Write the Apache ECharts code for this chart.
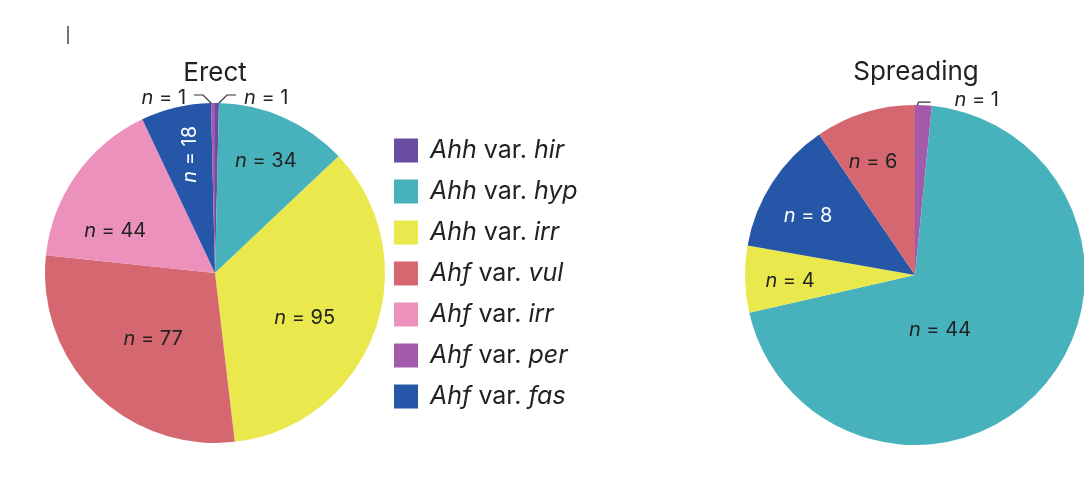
<!DOCTYPE html>
<html>
<head>
<meta charset="utf-8">
<script src="https://cdn.jsdelivr.net/npm/echarts@6/dist/echarts.min.js"></script>
<style>
html,body{margin:0;padding:0;background:#fff;}
#chart{width:1084px;height:478px;}
</style>
</head>
<body>
<div id="chart"></div>
<script>
// ---- data ----
const legendNames = ['Ahh var. hir','Ahh var. hyp','Ahh var. irr','Ahf var. vul','Ahf var. irr','Ahf var. per','Ahf var. fas'];
const erectNames = ['Ahh var. hir','Ahh var. hyp','Ahh var. irr','Ahf var. vul','Ahf var. irr','Ahf var. fas','Ahf var. per'];
const erectValues = [1, 34, 95, 77, 44, 18, 1];
const spreadNames = ['Ahf var. per','Ahh var. hyp','Ahh var. irr','Ahf var. fas','Ahf var. vul'];
const spreadValues = [1, 44, 4, 8, 6];
const titles = ['Erect', 'Spreading'];

// ---- styles ----
const colorMap = {
  'Ahh var. hir': '#6A4CA0',
  'Ahh var. hyp': '#47B2BB',
  'Ahh var. irr': '#E9E84C',
  'Ahf var. vul': '#D56771',
  'Ahf var. irr': '#EC91BC',
  'Ahf var. per': '#A45AAA',
  'Ahf var. fas': '#2556A8'
};
const FONT = 'Inter, "Noto Sans", sans-serif';
const TXT = '#222';
const erectLabelShift = {
  'Ahh var. hyp': [15, -32],
  'Ahh var. irr': [7, 15],
  'Ahf var. vul': [0, 3],
  'Ahf var. irr': [-28, 9],
  'Ahf var. fas': [33, -5]   // rotated label: shift in rotated frame
};
const spreadLabelShift = {
  'Ahh var. hyp': [-41, -3],
  'Ahh var. irr': [-37, 4],
  'Ahf var. fas': [-33, -11],
  'Ahf var. vul': [-16, -29]
};
const whiteLabels = {erect: ['Ahf var. fas'], spread: ['Ahf var. fas']};

function rich(color) {
  return {
    i: {fontStyle: 'italic', fontSize: 20, fontFamily: FONT, color: color},
    t: {fontSize: 20, fontFamily: FONT, color: color}
  };
}

function buildData(names, values, whites, isErect) {
  return names.map((nm, k) => {
    const item = {name: nm, value: values[k], itemStyle: {color: colorMap[nm]}};
    if (values[k] === 1) {
      item.label = {position: 'outside', rich: rich(TXT)};
      item.labelLine = {show: true, length: 9, length2: 10, lineStyle: {color: '#333', width: 1.2}};
    } else if (whites.indexOf(nm) >= 0) {
      item.label = {rich: rich('#fff')};
      if (isErect) item.label.rotate = 90;
    }
    return item;
  });
}

// custom leader line shapes for the tiny slices, derived from the library's default points
function smallLabelLayout(p, isErect) {
  const pts = p.labelLinePoints;
  const r = p.labelRect;
  if (!pts || !r) return {};
  const p0 = pts[0], p2 = pts[2];
  const side = p2[0] >= pts[1][0] ? 1 : -1;
  const hy = p0[1] - 8;
  let np, textEdge, textCy;
  if (isErect) {
    np = [[p0[0], p0[1] + 2], [p0[0] + side * 10, hy], [p0[0] + side * 19, hy]];
    textEdge = p0[0] + side * 27;
    textCy = hy + 3;
  } else {
    np = [[p0[0] - 11, p0[1] + 13], [p0[0] - 5, p0[1] - 3], [p0[0] + 7, p0[1] - 3]];
    textEdge = p0[0] + 31;
    textCy = p0[1] - 5;
  }
  const cur = side > 0 ? r.x : r.x + r.width;
  return {
    dx: textEdge - cur,
    dy: textCy - (r.y + r.height / 2),
    labelLinePoints: np
  };
}

function series(names, values, center, shifts, whites, isErect) {
  return {
    type: 'pie',
    center: center,
    radius: 170,
    startAngle: 90,
    clockwise: true,
    avoidLabelOverlap: false,
    silent: true,
    animation: false,
    itemStyle: {borderWidth: 0},
    label: {
      show: true,
      position: 'inside',
      color: TXT,
      formatter: p => '{i|n}{t| = ' + p.value + '}',
      rich: rich(TXT)
    },
    labelLine: {show: false},
    labelLayout: function (p) {
      const nm = names[p.dataIndex];
      if (values[p.dataIndex] === 1) return smallLabelLayout(p, isErect);
      const s = shifts[nm];
      if (s) return {dx: s[0], dy: s[1]};
      return {};
    },
    data: buildData(names, values, whites, isErect)
  };
}

const chart = echarts.init(document.getElementById('chart'), null, {renderer: 'canvas'});
chart.setOption({
  backgroundColor: '#fff',
  animation: false,
  legend: {
    orient: 'vertical',
    left: 394,
    top: 138,
    padding: 0,
    itemWidth: 24,
    itemHeight: 24,
    itemGap: 16,
    icon: 'rect',
    selectedMode: false,
    data: legendNames,
    formatter: function (name) {
      const parts = name.split(' var. ');
      return '{i|' + parts[0] + '}{t| var. }{i|' + parts[1] + '}';
    },
    textStyle: {
      color: TXT,
      padding: [0, 0, 0, 7],
      rich: {
        i: {fontStyle: 'italic', fontSize: 25, lineHeight: 24, fontFamily: FONT, color: TXT},
        t: {fontSize: 25, lineHeight: 24, fontFamily: FONT, color: TXT}
      }
    }
  },
  graphic: [
    {type: 'line', shape: {x1: 68, y1: 26, x2: 68, y2: 44}, style: {stroke: '#444', lineWidth: 1.5}},
    {type: 'text', x: 215, y: 73, style: {text: titles[0], fontSize: 26, fontFamily: FONT, fill: TXT, textAlign: 'center', textVerticalAlign: 'middle'}},
    {type: 'text', x: 916, y: 72, style: {text: titles[1], fontSize: 26, fontFamily: FONT, fill: TXT, textAlign: 'center', textVerticalAlign: 'middle'}}
  ],
  series: [
    series(erectNames, erectValues, [215, 273], erectLabelShift, whiteLabels.erect, true),
    series(spreadNames, spreadValues, [915, 275], spreadLabelShift, whiteLabels.spread, false)
  ]
});
</script>
</body>
</html>
